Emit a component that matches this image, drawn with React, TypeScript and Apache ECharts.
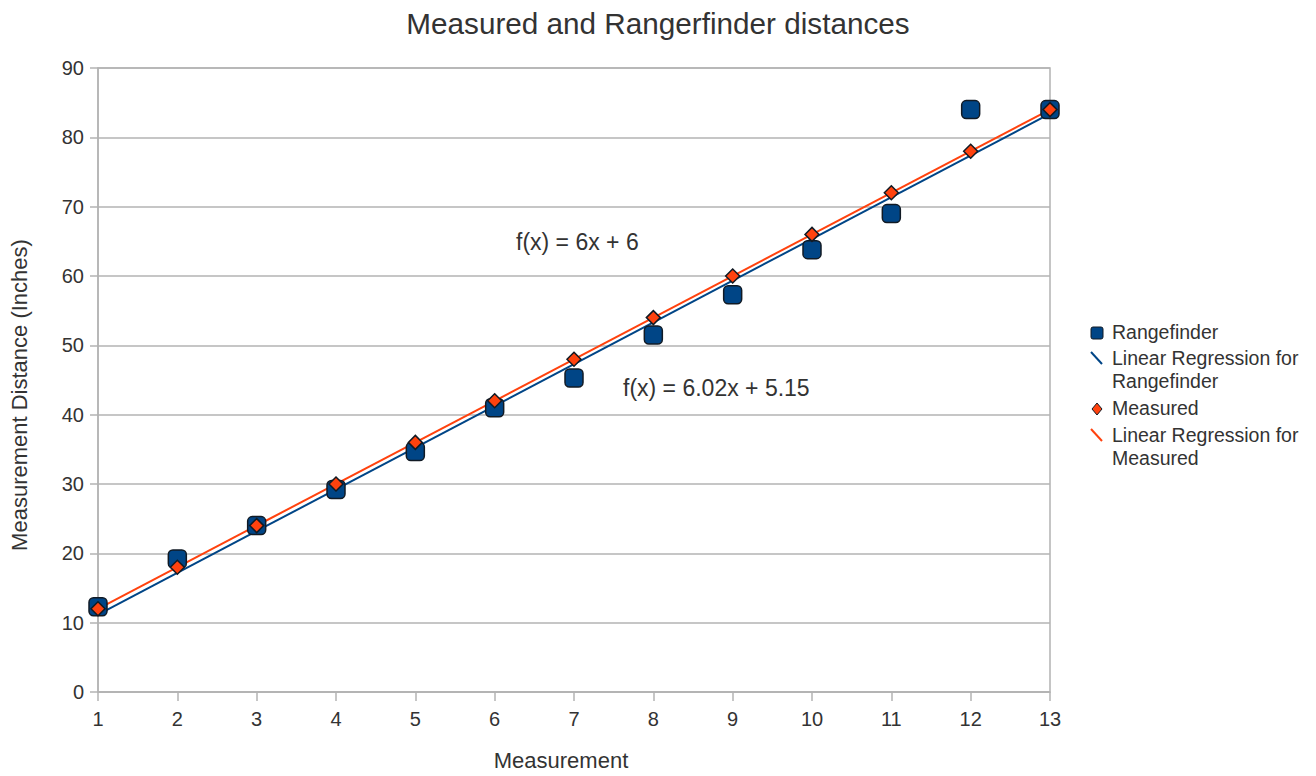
import React, { useEffect, useRef } from "react";
import * as echarts from "echarts";

const measurements = [1, 2, 3, 4, 5, 6, 7, 8, 9, 10, 11, 12, 13];
const rangefinder = [12.3, 19.2, 24, 29.2, 34.7, 41, 45.3, 51.5, 57.3, 63.8, 69, 84, 84];
const measured = [12, 18, 24, 30, 36, 42, 48, 54, 60, 66, 72, 78, 84];
const rangefinderFit = [6.02, 5.15]; // slope, intercept
const measuredFit = [6, 6];
const yTicks = [0, 10, 20, 30, 40, 50, 60, 70, 80, 90];

const BLUE = "#004586";
const ORANGE = "#ff420e";
const EDGE = "#111a24";
const TEXT = "#333";
const FONT = "'Liberation Sans', Arial, sans-serif";

export default function App() {
  const ref = useRef<HTMLDivElement>(null);
  useEffect(() => {
    const chart = echarts.init(ref.current!, null, { renderer: "svg" });
    const fitLine = (fit: number[]) =>
      [measurements[0], measurements[measurements.length - 1]].map((x) => [x, fit[0] * x + fit[1]]);
    const legendX = 1085;
    const textX = 1112;
    chart.setOption({
      animation: false,
      backgroundColor: "#fff",
      textStyle: { fontFamily: FONT },
      title: {
        text: "Measured and Rangerfinder distances",
        left: 653,
        textAlign: "center",
        top: 3,
        textStyle: { fontSize: 29.7, fontWeight: "normal", color: TEXT, fontFamily: FONT },
      },
      grid: {
        left: 97,
        right: 266,
        top: 68,
        bottom: 80,
        show: true,
        borderColor: "#b3b3b3",
        borderWidth: 1.5,
      },
      xAxis: {
        type: "value",
        min: 1,
        max: 13,
        interval: 1,
        name: "Measurement",
        nameLocation: "middle",
        nameGap: 57,
        nameTextStyle: { fontSize: 22, color: TEXT, fontFamily: FONT, padding: [0, 26, 0, 0] },
        axisLine: { show: true, lineStyle: { color: "#b3b3b3", width: 1.5 } },
        axisTick: { show: true, length: 9, lineStyle: { color: "#b3b3b3", width: 1.5 } },
        axisLabel: { fontSize: 20, color: TEXT, margin: 17, fontFamily: FONT },
        splitLine: { show: false },
      },
      yAxis: {
        type: "value",
        min: 0,
        max: 90,
        interval: 10,
        name: "Measurement Distance (Inches)",
        nameLocation: "middle",
        nameGap: 68,
        nameTextStyle: { fontSize: 22, color: TEXT, fontFamily: FONT, padding: [0, 30, 0, 0] },
        axisLine: { show: true, lineStyle: { color: "#b3b3b3", width: 1.5 } },
        axisTick: { show: true, length: 8, lineStyle: { color: "#b3b3b3", width: 1.5 } },
        axisLabel: {
          fontSize: 20,
          color: TEXT,
          margin: 14,
          fontFamily: FONT,
          formatter: (v: number) => (yTicks.includes(v) ? String(v) : ""),
        },
        splitLine: { show: true, lineStyle: { color: "#b3b3b3", width: 1.5 } },
      },
      series: [
        {
          name: "Linear Regression for Rangefinder",
          type: "line",
          data: fitLine(rangefinderFit),
          symbol: "none",
          lineStyle: { color: BLUE, width: 2 },
          z: 2,
        },
        {
          name: "Linear Regression for Measured",
          type: "line",
          data: fitLine(measuredFit),
          symbol: "none",
          lineStyle: { color: ORANGE, width: 2 },
          z: 2,
        },
        {
          name: "Rangefinder",
          type: "scatter",
          data: measurements.map((x, i) => [x, rangefinder[i]]),
          symbol: "roundRect",
          symbolSize: 18,
          itemStyle: { color: BLUE, borderColor: EDGE, borderWidth: 1.5, opacity: 1 },
          z: 3,
        },
        {
          name: "Measured",
          type: "scatter",
          data: measurements.map((x, i) => [x, measured[i]]),
          symbol: "diamond",
          symbolSize: 14,
          itemStyle: { color: ORANGE, borderColor: EDGE, borderWidth: 1.5, opacity: 1 },
          z: 4,
        },
      ],
      graphic: [
        {
          type: "text",
          left: 516,
          top: 230,
          style: { text: "f(x) = 6x + 6", fontSize: 23, fill: TEXT, fontFamily: FONT },
        },
        {
          type: "text",
          left: 623,
          top: 376,
          style: { text: "f(x) = 6.02x + 5.15", fontSize: 23, fill: TEXT, fontFamily: FONT },
        },
        // Legend
        {
          type: "rect",
          shape: { x: legendX + 6, y: 327, width: 12, height: 12, r: 2 },
          style: { fill: BLUE, stroke: EDGE, lineWidth: 1 },
        },
        {
          type: "text",
          left: textX,
          top: 322,
          style: { text: "Rangefinder", fontSize: 19.5, fill: TEXT, fontFamily: FONT },
        },
        {
          type: "line",
          shape: { x1: legendX + 6, y1: 352, x2: legendX + 17, y2: 364 },
          style: { stroke: BLUE, lineWidth: 2 },
        },
        {
          type: "text",
          left: textX,
          top: 346,
          style: {
            text: "Linear Regression for\nRangefinder",
            fontSize: 19.5,
            lineHeight: 23,
            fill: TEXT,
            fontFamily: FONT,
          },
        },
        {
          type: "polygon",
          shape: { points: [[legendX + 12, 403], [legendX + 17, 409], [legendX + 12, 415], [legendX + 7, 409]] },
          style: { fill: ORANGE, stroke: EDGE, lineWidth: 1 },
        },
        {
          type: "text",
          left: textX,
          top: 398,
          style: { text: "Measured", fontSize: 19.5, fill: TEXT, fontFamily: FONT },
        },
        {
          type: "line",
          shape: { x1: legendX + 6, y1: 429, x2: legendX + 17, y2: 441 },
          style: { stroke: ORANGE, lineWidth: 2 },
        },
        {
          type: "text",
          left: textX,
          top: 423,
          style: {
            text: "Linear Regression for\nMeasured",
            fontSize: 19.5,
            lineHeight: 23,
            fill: TEXT,
            fontFamily: FONT,
          },
        },
      ],
    });
    return () => chart.dispose();
  }, []);
  return (
    <div
      ref={ref}
      style={{ position: "fixed", left: 0, top: 0, width: 1316, height: 776, background: "#fff" }}
    />
  );
}
